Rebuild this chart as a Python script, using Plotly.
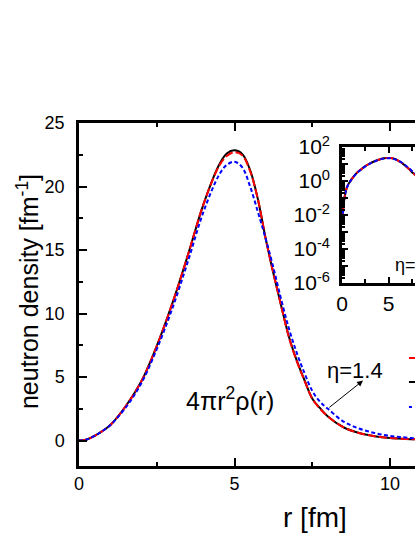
import plotly.graph_objects as go

# ---- data ----
r = [0, 0.1, 0.25, 0.5, 0.75, 1.0, 1.5, 2.0, 2.5, 3.0, 3.5, 4.0, 4.5, 4.75, 5.0,
     5.25, 5.5, 5.75, 6.0, 6.25, 6.5, 6.75, 7.0, 7.25, 7.5, 7.75, 8.0, 8.5, 9.0,
     9.5, 10.0, 10.5, 11.0, 12.0, 13.0, 14.0, 15.0]
black = [0, 0.012, 0.09, 0.38, 0.75, 1.2, 2.7, 4.65, 7.45, 10.8, 14.6, 18.6, 21.7, 22.6, 22.85,
         22.55, 21.3, 19.0, 15.9, 13.15, 10.6, 8.15, 6.3, 4.75, 3.3, 2.55, 1.9, 1.05, 0.6,
         0.35, 0.2, 0.13, 0.08, 0.03, 0.01, 0.003, 0.001]
red = [0, 0.012, 0.09, 0.38, 0.75, 1.2, 2.7, 4.65, 7.45, 10.8, 14.6, 18.6, 21.6, 22.4, 22.7,
       22.45, 21.2, 19.0, 15.9, 13.15, 10.6, 8.1, 6.25, 4.7, 3.3, 2.5, 1.9, 1.05, 0.6,
       0.35, 0.2, 0.13, 0.08, 0.03, 0.01, 0.003, 0.001]
blue = [0, 0.012, 0.09, 0.37, 0.75, 1.2, 2.6, 4.5, 7.2, 10.4, 14.1, 18.0, 20.9, 21.7, 21.95,
        21.5, 20.0, 18.0, 15.9, 13.6, 11.1, 8.8, 6.9, 5.3, 3.9, 3.05, 2.5, 1.5, 0.95,
        0.6, 0.37, 0.24, 0.16, 0.07, 0.03, 0.012, 0.005]
names = ["η=1.0", "exact", "η=1.4"]

inset_tickvals = [1e-6, 1e-5, 1e-4, 1e-3, 1e-2, 1e-1, 1e0, 1e1, 1e2]
inset_ticktext = ["10<sup>-6</sup>", "", "10<sup>-4</sup>", "", "10<sup>-2</sup>", "",
                  "10<sup>0</sup>", "", "10<sup>2</sup>"]

FONT = "Arial, Liberation Sans, sans-serif"
W, H = 415, 537

fig = go.Figure()
series = [(black, "black", "solid", names[1]),
          (red, "#FF0000", "8px,3px", names[0]),
          (blue, "#0000FF", "4px,2.5px", names[2])]
for vals, col, dash, nm in series:
    fig.add_trace(go.Scatter(x=r, y=vals, mode="lines", name=nm, showlegend=False,
                             line=dict(color=col, width=2, dash=dash, shape="spline"),
                             xaxis="x", yaxis="y"))
for vals, col, dash, nm in series:
    fig.add_trace(go.Scatter(x=r[1:], y=vals[1:], mode="lines", name=nm, showlegend=False,
                             line=dict(color=col, width=2, dash=dash, shape="spline"),
                             xaxis="x2", yaxis="y2"))

axis_common = dict(showline=True, linecolor="black", linewidth=2.5, ticks="inside",
                   tickcolor="black", tickwidth=2, showgrid=False, zeroline=False,
                   tickfont=dict(family=FONT, size=18, color="black"))
inset_font = dict(family=FONT, size=21, color="black")

fig.update_layout(
    width=W, height=H,
    margin=dict(l=79, r=0, t=123, b=71, autoexpand=False),
    paper_bgcolor="white", plot_bgcolor="white",
    font=dict(family=FONT, color="black"),
    showlegend=False,
    xaxis=dict(domain=[0, 1], range=[0, 10.8], tick0=0, dtick=5, ticklen=8,
               minor=dict(dtick=2.5, ticks="inside", ticklen=4, tickwidth=2, tickcolor="black"),
               mirror="allticks", anchor="y", **axis_common),
    yaxis=dict(domain=[0, 1], range=[-2, 25], tick0=0, dtick=5, ticklen=8,
               ticklabelstandoff=8,
               minor=dict(dtick=2.5, ticks="inside", ticklen=4, tickwidth=2, tickcolor="black"),
               anchor="x", **axis_common),
    xaxis2=dict(domain=[0.7827, 1], range=[0, 7.82], tick0=0, dtick=5, ticklen=6,
                minor=dict(dtick=2.5, ticks="inside", ticklen=4, tickwidth=2, tickcolor="black"),
                mirror="allticks", anchor="y2", **{**axis_common, "tickfont": inset_font}),
    yaxis2=dict(domain=[0.5335, 0.930], type="log", range=[-6, 2], tickmode="array",
                tickvals=inset_tickvals, ticktext=inset_ticktext, ticklen=6,
                ticklabelstandoff=5,
                minor=dict(dtick="D1", ticks="inside", ticklen=3, tickwidth=1.5, tickcolor="black"),
                anchor="x2", **{**axis_common, "tickfont": inset_font}),
)

# legend keys (only their left ends are inside the visible picture)
legend_keys = [("#FF0000", "dash", 0.3149), ("black", "solid", 0.2449), ("#0000FF", "dot", 0.172)]
for col, dash, ypos in legend_keys:
    fig.add_shape(type="line", xref="paper", yref="paper", x0=0.982, x1=1.1, y0=ypos, y1=ypos,
                  line=dict(color=col, width=2, dash=dash))

fig.add_annotation(text="neutron density [fm<sup>-1</sup>]", xref="paper", yref="paper",
                   x=-0.1518, y=0.51, xanchor="center", yanchor="middle", textangle=-90,
                   showarrow=False, font=dict(family=FONT, size=25, color="black"))
fig.add_annotation(text="r [fm]", xref="paper", yref="paper", x=0.702, y=-0.1487,
                   xanchor="center", yanchor="middle",
                   showarrow=False, font=dict(family=FONT, size=28, color="black"))
fig.add_annotation(text="4πr<sup>2</sup>ρ(r)", xref="x", yref="y", x=4.84, y=3.3,
                   xanchor="center", yanchor="middle",
                   showarrow=False, font=dict(family=FONT, size=25, color="black"))
fig.add_annotation(text="η=1.4", xref="x", yref="y", x=8.87, y=5.52,
                   xanchor="center", yanchor="middle",
                   showarrow=False, font=dict(family=FONT, size=22, color="black"))
fig.add_annotation(text="", xref="x", yref="y", x=9.13, y=4.73, axref="x", ayref="y",
                   ax=8.0, ay=2.52, showarrow=True, arrowhead=2, arrowsize=1.2,
                   arrowwidth=1, arrowcolor="black")
fig.add_annotation(text="η=1.4", xref="x2", yref="y2", x=5.47, y=-4.94, xanchor="left",
                   yanchor="middle",
                   showarrow=False, font=dict(family=FONT, size=18, color="black"))

fig.write_html(
    "out.html",
    config={"displayModeBar": False},
    post_script="document.body.style.margin='0';document.body.style.overflow='hidden';",
)
